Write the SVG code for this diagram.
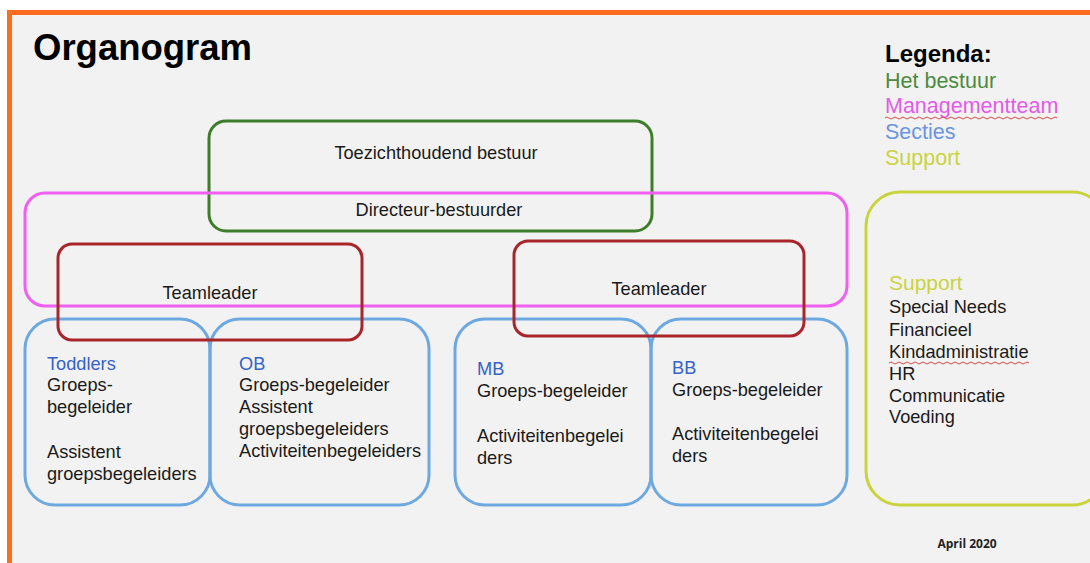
<svg xmlns="http://www.w3.org/2000/svg" width="1090" height="563" viewBox="0 0 1090 563">
<style>
.t{font-family:"Liberation Sans",Arial,sans-serif;font-size:18.2px;fill:#1a1a1a}
.lg{font-family:"Liberation Sans",Arial,sans-serif;font-size:21.5px}
.box{fill:none;stroke-width:3}
.green{stroke:#3f7d2b}
.pink{stroke:#ef5ff0}
.red{stroke:#a8262b}
.blue{stroke:#6ea8e0}
.yel{stroke:#c9d43c}
.sec{fill:#3462c9}
.wavy{fill:none;stroke:#d94a4a;stroke-width:1}
</style>
<rect x="0" y="0" width="1090" height="563" fill="#ffffff"/>
<rect x="9.5" y="12.5" width="1090" height="560" fill="#f2f2f2" stroke="#ff6b1f" stroke-width="5"/>
<text x="33" y="60" font-family="Liberation Sans,Arial,sans-serif" font-weight="bold" font-size="36.5" fill="#000">Organogram</text>
<g id="legend">
<text x="885" y="62" class="lg" font-weight="bold" style="font-size:24px" fill="#000">Legenda:</text>
<text x="885" y="88" class="lg" fill="#4d8a3d">Het bestuur</text>
<text x="885" y="113" class="lg" fill="#e35ce6">Managementteam</text>
<path class="wavy" d="M885 118 q2 -2 4 0 t4 0 t4 0 t4 0 t4 0 t4 0 t4 0 t4 0 t4 0 t4 0 t4 0 t4 0 t4 0 t4 0 t4 0 t4 0 t4 0 t4 0 t4 0 t4 0 t4 0 t4 0 t4 0 t4 0 t4 0 t4 0 t4 0 t4 0 t4 0 t4 0 t4 0 t4 0 t4 0 t4 0 t4 0 t4 0 t4 0 t4 0 t4 0 t4 0 t4 0 t4 0 t4 0"/>
<text x="885" y="139" class="lg" fill="#6a95e2">Secties</text>
<text x="885" y="165" class="lg" fill="#c9d43f">Support</text>
</g>
<g id="connectors"></g>
<g id="toezicht">
<rect class="box green" x="209" y="121" width="443" height="110" rx="17"/>
<text class="t" x="436" y="159" text-anchor="middle">Toezichthoudend bestuur</text>
</g>
<g id="directeur">
<rect class="box pink" x="25" y="193" width="822" height="113" rx="20"/>
<text class="t" x="439" y="216" text-anchor="middle">Directeur-bestuurder</text>
</g>
<g id="toddlers">
<rect class="box blue" x="25" y="319" width="185" height="186" rx="30"/>
<text class="t sec" x="47" y="370">Toddlers</text>
<text class="t" x="47" y="391">Groeps-</text>
<text class="t" x="47" y="413">begeleider</text>
<text class="t" x="47" y="458">Assistent</text>
<text class="t" x="47" y="480">groepsbegeleiders</text>
</g>
<g id="ob">
<rect class="box blue" x="210" y="319" width="219" height="186" rx="30"/>
<text class="t sec" x="239" y="370">OB</text>
<text class="t" x="239" y="391">Groeps-begeleider</text>
<text class="t" x="239" y="413">Assistent</text>
<text class="t" x="239" y="435">groepsbegeleiders</text>
<text class="t" x="239" y="457">Activiteitenbegeleiders</text>
</g>
<g id="mb">
<rect class="box blue" x="455" y="319" width="196" height="186" rx="30"/>
<text class="t sec" x="477" y="375">MB</text>
<text class="t" x="477" y="397">Groeps-begeleider</text>
<text class="t" x="477" y="442">Activiteitenbegelei</text>
<text class="t" x="477" y="464">ders</text>
</g>
<g id="bb">
<rect class="box blue" x="651" y="319" width="196" height="186" rx="30"/>
<text class="t sec" x="672" y="374">BB</text>
<text class="t" x="672" y="396">Groeps-begeleider</text>
<text class="t" x="672" y="440">Activiteitenbegelei</text>
<text class="t" x="672" y="462">ders</text>
</g>
<g id="teamleader-left">
<rect class="box red" x="58" y="244" width="304" height="96" rx="14"/>
<text class="t" x="210" y="299" text-anchor="middle">Teamleader</text>
</g>
<g id="teamleader-right">
<rect class="box red" x="514" y="241" width="290" height="95" rx="14"/>
<text class="t" x="659" y="295" text-anchor="middle">Teamleader</text>
</g>
<g id="support">
<rect class="box yel" x="866" y="192" width="240" height="313" rx="34"/>
<text x="889" y="290" font-family="Liberation Sans,Arial,sans-serif" font-size="21" fill="#c9d43f">Support</text>
<text class="t" x="889" y="313">Special Needs</text>
<text class="t" x="889" y="336">Financieel</text>
<text class="t" x="889" y="358">Kindadministratie</text>
<path class="wavy" d="M889 363 q2 -2 4 0 t4 0 t4 0 t4 0 t4 0 t4 0 t4 0 t4 0 t4 0 t4 0 t4 0 t4 0 t4 0 t4 0 t4 0 t4 0 t4 0 t4 0 t4 0 t4 0 t4 0 t4 0 t4 0 t4 0 t4 0 t4 0 t4 0 t4 0 t4 0 t4 0 t4 0 t4 0 t4 0 t4 0 t4 0"/>
<text class="t" x="889" y="380">HR</text>
<text class="t" x="889" y="402">Communicatie</text>
<text class="t" x="889" y="423">Voeding</text>
</g>
<text x="967" y="548" text-anchor="middle" font-family="Open Sans,sans-serif" font-weight="bold" font-size="12" fill="#222">April 2020</text>
</svg>
